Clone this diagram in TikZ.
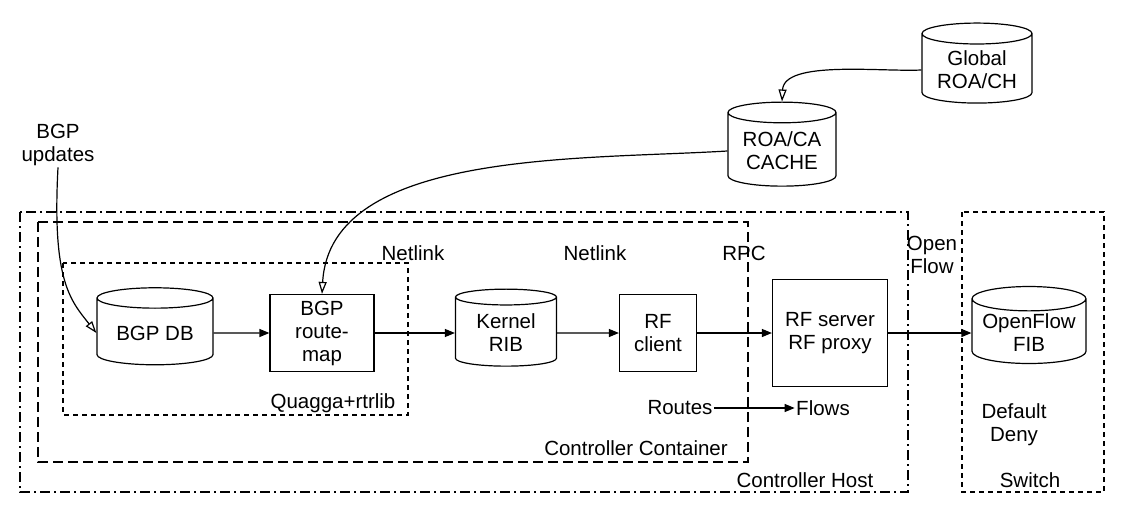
\documentclass[tikz,border=0pt]{standalone}
\usepackage{fontspec}
\setmainfont{Liberation Sans}
\usetikzlibrary{shapes.geometric,arrows.meta}
\begin{document}
\begin{tikzpicture}[x=1pt,y=-1pt,line width=1.2pt,
  every node/.style={font=\fontsize{20.5}{23}\selectfont},
  db/.style={cylinder,shape border rotate=90,draw,aspect=0.25,align=center,inner sep=2pt},
  box/.style={draw,align=center,inner sep=2pt},
  lbl/.style={align=center,inner sep=1pt},
  arr/.style={-{Triangle[length=10pt,width=8pt]}},
  oarr/.style={-{Triangle[open,length=12pt,width=8pt]}},
  dd/.style={dash pattern=on 5pt off 4pt},
  ld/.style={dash pattern=on 10pt off 5pt},
  dda/.style={dash pattern=on 10pt off 4pt on 2pt off 4pt}]
\useasboundingbox (0,0) rectangle (1122,516);
\draw[dda] (20,212) rectangle (908,492);
\draw[ld] (38,222) rectangle (748,462);
\draw[dd] (63,263) rectangle (408,415);
\draw[dd] (962,212) rectangle (1104,492);
\node[db,minimum width=116pt,minimum height=77pt] (bgpdb) at (155,333) {BGP DB};
\node[box,minimum width=104pt,minimum height=77pt] (rmap) at (322,333) {BGP\\route-\\map};
\node[db,minimum width=101pt,minimum height=77pt] (krib) at (506,333) {Kernel\\RIB};
\node[box,minimum width=77pt,minimum height=77pt] (rfc) at (658,333) {RF\\client};
\node[box,minimum width=115pt,minimum height=107pt] (rfs) at (830,333) {RF server\\RF proxy};
\node[db,minimum width=114pt,minimum height=77pt] (fib) at (1029,333) {OpenFlow\\FIB};
\node[db,minimum width=108pt,minimum height=84pt] (cache) at (782,151) {ROA/CA\\CACHE};
\node[db,minimum width=110pt,minimum height=80pt] (glob) at (977,70) {Global\\ROA/CH};
\node[lbl] (upd) at (58,145) {BGP\\updates};
\node[lbl] at (413,253) {Netlink};
\node[lbl] at (595,253) {Netlink};
\node[lbl] at (744,253) {RPC};
\node[lbl] at (932,255) {Open\\Flow};
\node[lbl] at (333,403) {Quagga+rtrlib};
\node[lbl] (routes) at (680,408) {Routes};
\node[lbl] (flows) at (823,408) {Flows};
\node[lbl] at (636,448) {Controller Container};
\node[lbl] at (805,480) {Controller Host};
\node[lbl] at (1014,425) {Default\\Deny};
\node[lbl] at (1030,480) {Switch};
\draw[arr] (bgpdb) -- (rmap);
\draw[arr] (rmap) -- (krib);
\draw[arr] (krib) -- (rfc);
\draw[arr] (rfc) -- (rfs);
\draw[arr] (rfs) -- (fib);
\draw[arr] (routes) -- (flows);
\draw[oarr] (upd.south) .. controls (52,280) and (70,300) .. (bgpdb.west);
\draw[oarr] (cache.west) .. controls (580,160) and (330,150) .. (rmap.north);
\draw[oarr] (glob.west) .. controls (880,72) and (784,60) .. (cache.north);
\end{tikzpicture}
\end{document}
